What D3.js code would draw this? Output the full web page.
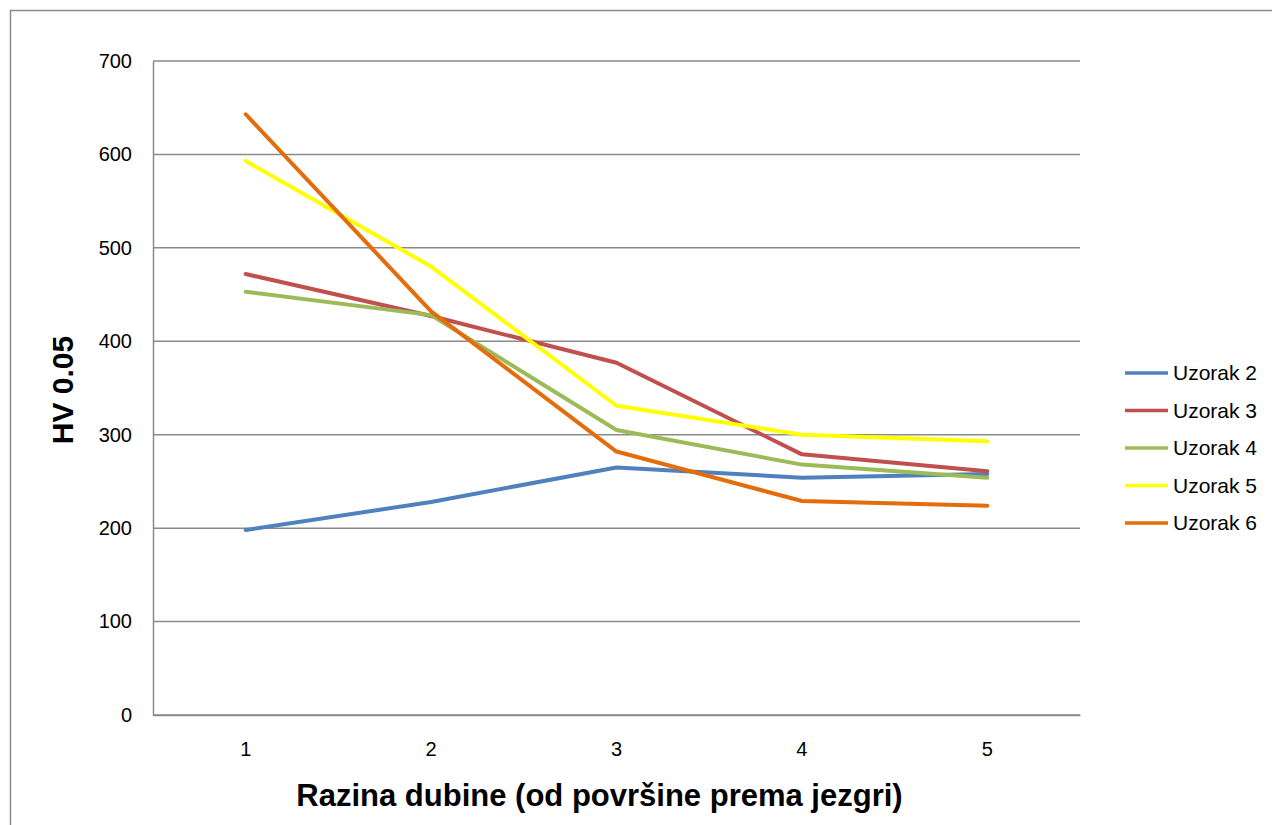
<!DOCTYPE html>
<html>
<head>
<meta charset="utf-8">
<script src="https://cdn.jsdelivr.net/npm/d3@7"></script>
<style>
  html, body { margin: 0; padding: 0; background: #fff; }
  svg { display: block; }
  text { font-family: "Liberation Sans", Arial, sans-serif; }
</style>
</head>
<body>
<svg id="chart" width="1272" height="825"></svg>
<script>
const categories = ["1", "2", "3", "4", "5"];
const yTicks = [0, 100, 200, 300, 400, 500, 600, 700];
const seriesNames = ["Uzorak 2", "Uzorak 3", "Uzorak 4", "Uzorak 5", "Uzorak 6"];
const uzorak2 = [198, 228, 265, 254, 258];
const uzorak3 = [472, 427, 377, 279, 261];
const uzorak4 = [453, 428, 305, 268, 254];
const uzorak5 = [593, 480, 331, 300, 293];
const uzorak6 = [643, 432, 282, 229, 224];
const seriesColors = ["#4F81BD", "#C0504D", "#9BBB59", "#FFFF00", "#E46C0A"];
const xTitle = "Razina dubine (od površine prema jezgri)";
const yTitle = "HV 0.05";

const series = [uzorak2, uzorak3, uzorak4, uzorak5, uzorak6].map((v, i) => ({
  name: seriesNames[i], values: v, color: seriesColors[i]
}));

const svg = d3.select("#chart");
const plot = { left: 153, top: 61, right: 1080, bottom: 715 };

// outer chart frame
svg.append("rect")
  .attr("x", 10.5).attr("y", 10.5)
  .attr("width", 1300).attr("height", 900)
  .attr("fill", "none").attr("stroke", "#8c8c8c").attr("stroke-width", 1.5);

const x = d3.scaleBand().domain(categories).range([plot.left, plot.right]);
const y = d3.scaleLinear().domain([0, 700]).range([plot.bottom, plot.top]);

// gridlines
svg.append("g")
  .selectAll("line").data(yTicks).join("line")
  .attr("x1", plot.left).attr("x2", plot.right)
  .attr("y1", d => y(d)).attr("y2", d => y(d))
  .attr("stroke", "#8a8a8a").attr("stroke-width", 1.5);

// y axis
const yAxis = svg.append("g")
  .attr("transform", `translate(${plot.left},0)`)
  .call(d3.axisLeft(y).tickValues(yTicks).tickSize(0).tickPadding(21));
yAxis.select(".domain").attr("stroke", "#8a8a8a").attr("stroke-width", 1.5);
yAxis.selectAll("text")
  .attr("font-family", "Liberation Sans, Arial, sans-serif")
  .attr("font-size", 20).attr("fill", "#000");

// x axis
const xAxis = svg.append("g")
  .attr("transform", `translate(0,${plot.bottom})`)
  .call(d3.axisBottom(x).tickSize(0).tickPadding(27));
xAxis.select(".domain").attr("stroke", "#8a8a8a").attr("stroke-width", 1.5);
xAxis.selectAll("text")
  .attr("font-family", "Liberation Sans, Arial, sans-serif")
  .attr("font-size", 20).attr("fill", "#000");

// lines
const line = d3.line()
  .x((d, i) => x(categories[i]) + x.bandwidth() / 2)
  .y(d => y(d));

svg.append("g")
  .selectAll("path").data(series).join("path")
  .attr("d", d => line(d.values))
  .attr("fill", "none")
  .attr("stroke", d => d.color)
  .attr("stroke-width", 4)
  .attr("stroke-linejoin", "round")
  .attr("stroke-linecap", "round");

// axis titles
svg.append("text")
  .attr("x", 599.5)
  .attr("y", 806)
  .attr("text-anchor", "middle")
  .attr("font-size", 31).attr("font-weight", "bold").attr("fill", "#000")
  .text(xTitle);

svg.append("text")
  .attr("transform", `translate(73,390) rotate(-90)`)
  .attr("text-anchor", "middle")
  .attr("font-size", 30).attr("font-weight", "bold").attr("fill", "#000")
  .text(yTitle);

// legend
const legend = svg.append("g");
const lg = legend.selectAll("g").data(series).join("g")
  .attr("transform", (d, i) => `translate(1125,${373 + i * 37.5})`);
lg.append("line")
  .attr("x1", 0).attr("x2", 43).attr("y1", 0).attr("y2", 0)
  .attr("stroke", d => d.color).attr("stroke-width", 3.5);
lg.append("text")
  .attr("x", 48).attr("y", 0).attr("dy", "0.35em")
  .attr("font-size", 21).attr("fill", "#000")
  .text(d => d.name);
</script>
</body>
</html>
